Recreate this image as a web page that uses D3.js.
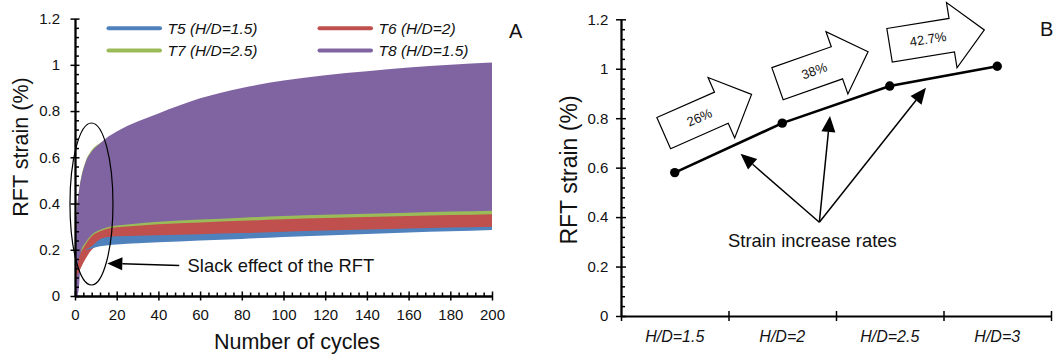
<!DOCTYPE html>
<html>
<head>
<meta charset="utf-8">
<script src="https://cdn.jsdelivr.net/npm/d3@7"></script>
<style>
  body { margin: 0; background: #fff; }
  svg { display: block; font-family: "Liberation Sans", Arial, sans-serif; }
</style>
</head>
<body>
<svg id="chart" width="1062" height="358"></svg>
<script>
// Panel A: min / max RFT strain reached in each cycle, drawn as a band
const cycles = [0, 0.5, 1, 2, 3, 5, 8, 12, 16, 20, 30, 40, 60, 80, 100, 120, 140, 160, 180, 200];
const t5Low  = [null, null, null, null, null, 0.198, 0.205, 0.215, 0.22, 0.223, 0.228, 0.232, 0.24, 0.247, 0.255, 0.262, 0.268, 0.275, 0.28, 0.286];
const t5High = [null, null, null, null, null, 0.2, 0.215, 0.245, 0.255, 0.258, 0.261, 0.263, 0.267, 0.272, 0.278, 0.283, 0.288, 0.292, 0.296, 0.3];
const t6Low  = [0.05, 0.07, 0.09, 0.105, 0.125, 0.16, 0.2, 0.225, 0.23, 0.233, 0.238, 0.242, 0.25, 0.257, 0.265, 0.272, 0.278, 0.285, 0.29, 0.295];
const t6High = [0.06, 0.09, 0.12, 0.165, 0.19, 0.222, 0.258, 0.28, 0.292, 0.297, 0.304, 0.31, 0.318, 0.325, 0.332, 0.337, 0.342, 0.346, 0.35, 0.354];
const t7Low  = [0.05, 0.07, 0.09, 0.11, 0.13, 0.165, 0.205, 0.228, 0.233, 0.236, 0.24, 0.245, 0.252, 0.26, 0.267, 0.274, 0.28, 0.287, 0.292, 0.297];
const t7High = [0.01, 0.29, 0.372, 0.462, 0.515, 0.58, 0.63, 0.662, 0.68, 0.7, 0.742, 0.775, 0.835, 0.875, 0.9, 0.92, 0.935, 0.95, 0.96, 0.97];
const t8Low  = [0, 0, 0, 0.05, 0.197, 0.23, 0.265, 0.287, 0.299, 0.305, 0.314, 0.321, 0.331, 0.339, 0.346, 0.351, 0.356, 0.36, 0.365, 0.369];
const t8High = [0.02, 0.3, 0.38, 0.46, 0.51, 0.575, 0.625, 0.66, 0.69, 0.712, 0.755, 0.79, 0.855, 0.9, 0.932, 0.955, 0.972, 0.988, 1.0, 1.01];

const seriesNames = ['T5 (H/D=1.5)', 'T6 (H/D=2)', 'T7 (H/D=2.5)', 'T8 (H/D=1.5)'];
const seriesColors = ['#4f81bd', '#c0504d', '#9bbb59', '#8064a2'];
const cycleTicks = [0, 20, 40, 60, 80, 100, 120, 140, 160, 180, 200];
const strainTicks = [0, 0.2, 0.4, 0.6, 0.8, 1, 1.2];

// Panel B: strain at the end of loading against H/D
const ratios = ['H/D=1.5', 'H/D=2', 'H/D=2.5', 'H/D=3'];
const finalStrain = [0.58, 0.78, 0.93, 1.01];
const rateLabels = ['26%', '38%', '42.7%'];

const svg = d3.select('#chart');
const FONT = '"Liberation Sans", Arial, sans-serif';

// ---------- helpers ----------
function styleAxis(g, size) {
  g.attr('font-family', FONT).attr('font-size', size);
  g.selectAll('.domain').attr('stroke', '#000').attr('stroke-width', 1.8);
  g.selectAll('.tick line').attr('stroke', '#000').attr('stroke-width', 1.5);
  g.selectAll('.tick text').attr('fill', '#111');
}

function arrowHead(g, x0, y0, x1, y1, len, half) {
  const a = Math.atan2(y1 - y0, x1 - x0);
  const bx = x1 - len * Math.cos(a), by = y1 - len * Math.sin(a);
  const px = -Math.sin(a) * half, py = Math.cos(a) * half;
  g.append('line')
    .attr('x1', x0).attr('y1', y0).attr('x2', bx).attr('y2', by)
    .attr('stroke', '#000').attr('stroke-width', 1.5);
  g.append('path')
    .attr('d', `M${x1},${y1}L${bx + px},${by + py}L${bx - px},${by - py}Z`)
    .attr('fill', '#000');
}

// ---------- panel A ----------
const xA = d3.scaleLinear().domain([0, 200]).range([75, 492]);
const yA = d3.scaleLinear().domain([0, 1.2]).range([296, 18.6]);

const lows = [t5Low, t6Low, t7Low, t8Low];
const highs = [t5High, t6High, t7High, t8High];

const band = d3.area()
  .defined(d => d.lo != null)
  .x(d => xA(d.c))
  .y0(d => yA(d.lo))
  .y1(d => yA(d.hi))
  .curve(d3.curveMonotoneX);

const panelA = svg.append('g');

// T7 behind, then T8, T6 and T5 on top
[2, 3, 1, 0].forEach(i => {
  const rows = cycles.map((c, j) => ({ c, lo: lows[i][j], hi: highs[i][j] }));
  panelA.append('path')
    .datum(rows)
    .attr('d', band)
    .attr('fill', seriesColors[i]);
});

// y axis with crossing major ticks and inner minor ticks
const yMinor = d3.range(0, 1.2001, 0.04).filter(v => Math.abs(v / 0.2 - Math.round(v / 0.2)) > 1e-6);
panelA.append('g')
  .attr('transform', `translate(${xA(0)},0)`)
  .call(d3.axisLeft(yA).tickValues(strainTicks).tickSize(4.5).tickSizeOuter(0).tickPadding(10.5).tickFormat(d => d))
  .call(g => styleAxis(g, 15));
panelA.append('g')
  .attr('transform', `translate(${xA(0)},0)`)
  .call(d3.axisRight(yA).tickValues(strainTicks).tickSize(4.5).tickSizeOuter(0).tickFormat(''))
  .call(g => styleAxis(g, 15));
panelA.append('g')
  .attr('transform', `translate(${xA(0)},0)`)
  .call(d3.axisRight(yA).tickValues(yMinor).tickSize(4).tickSizeOuter(0).tickFormat(''))
  .call(g => { styleAxis(g, 15); g.select('.domain').remove(); });

// x axis
const xMinor = d3.range(0, 201, 4).filter(v => v % 20 !== 0);
panelA.append('g')
  .attr('transform', `translate(0,${yA(0)})`)
  .call(d3.axisBottom(xA).tickValues(cycleTicks).tickSize(4.5).tickSizeOuter(0).tickPadding(8.8))
  .call(g => styleAxis(g, 15));
panelA.append('g')
  .attr('transform', `translate(0,${yA(0)})`)
  .call(d3.axisTop(xA).tickValues(cycleTicks).tickSize(4.5).tickSizeOuter(0).tickFormat(''))
  .call(g => styleAxis(g, 15));
panelA.append('g')
  .attr('transform', `translate(0,${yA(0)})`)
  .call(d3.axisTop(xA).tickValues(xMinor).tickSize(3.5).tickSizeOuter(0).tickFormat(''))
  .call(g => { styleAxis(g, 15); g.select('.domain').remove(); });

panelA.append('text')
  .attr('x', 297).attr('y', 349)
  .attr('text-anchor', 'middle')
  .attr('font-size', 21.5)
  .attr('fill', '#111')
  .text('Number of cycles');

panelA.append('text')
  .attr('transform', 'translate(27.5,147) rotate(-90)')
  .attr('text-anchor', 'middle')
  .attr('font-size', 21.5)
  .attr('fill', '#111')
  .text('RFT strain (%)');

// legend, two columns
const legend = panelA.append('g').attr('transform', 'translate(108.5,28.2)');
seriesNames.forEach((name, i) => {
  const gx = (i % 2) * 211, gy = Math.floor(i / 2) * 22.4;
  legend.append('line')
    .attr('x1', gx).attr('x2', gx + 51.5).attr('y1', gy).attr('y2', gy)
    .attr('stroke', seriesColors[i]).attr('stroke-width', 4).attr('stroke-linecap', 'round');
  legend.append('text')
    .attr('x', gx + 59).attr('y', gy + 5.5)
    .attr('font-size', 15.5).attr('font-style', 'italic').attr('fill', '#111')
    .text(name);
});

panelA.append('text')
  .attr('x', 509).attr('y', 37.5)
  .attr('font-size', 20).attr('fill', '#111')
  .text('A');

// slack region callout
panelA.append('ellipse')
  .attr('cx', xA(7.9)).attr('cy', yA(0.398))
  .attr('rx', 21.5).attr('ry', 81)
  .attr('fill', 'none').attr('stroke', '#000').attr('stroke-width', 1.2);
arrowHead(panelA, xA(50), yA(0.132), xA(15.5), yA(0.141), 15, 6.5);
panelA.append('text')
  .attr('x', xA(54)).attr('y', yA(0.104))
  .attr('font-size', 18.4).attr('fill', '#111')
  .text('Slack effect of the RFT');

// ---------- panel B ----------
const xB = d3.scaleLinear().domain([0, 4]).range([621, 1051]);
const xBand = d3.scaleBand().domain(ratios).range([621, 1051]);
const yB = d3.scaleLinear().domain([0, 1.2]).range([316, 19.3]);

const panelB = svg.append('g');

panelB.append('g')
  .attr('transform', `translate(${xB(0)},0)`)
  .call(d3.axisLeft(yB).tickValues(strainTicks).tickSize(5).tickSizeOuter(0).tickPadding(7.7).tickFormat(d => d))
  .call(g => styleAxis(g, 15));
panelB.append('g')
  .attr('transform', `translate(${xB(0)},0)`)
  .call(d3.axisRight(yB).tickValues(strainTicks).tickSize(5).tickSizeOuter(0).tickFormat(''))
  .call(g => styleAxis(g, 15));
panelB.append('g')
  .attr('transform', `translate(${xB(0)},0)`)
  .call(d3.axisRight(yB).tickValues(yMinor).tickSize(4).tickSizeOuter(0).tickFormat(''))
  .call(g => { styleAxis(g, 15); g.select('.domain').remove(); });

panelB.append('g')
  .attr('transform', `translate(0,${yB(0)})`)
  .call(d3.axisBottom(xB).tickValues([0, 1, 2, 3, 4]).tickSize(5).tickSizeOuter(0).tickFormat(''))
  .call(g => styleAxis(g, 15));
panelB.append('g')
  .attr('transform', `translate(0,${yB(0)})`)
  .call(d3.axisTop(xB).tickValues([1, 2, 3, 4]).tickSize(5).tickSizeOuter(0).tickFormat(''))
  .call(g => { styleAxis(g, 15); g.select('.domain').remove(); });
panelB.append('g')
  .attr('transform', `translate(0,${yB(0)})`)
  .call(d3.axisBottom(xBand).tickSize(0).tickPadding(14.3))
  .call(g => {
    styleAxis(g, 16);
    g.select('.domain').remove();
    g.selectAll('.tick text').attr('font-style', 'italic');
  });

panelB.append('text')
  .attr('transform', 'translate(576.7,170) rotate(-90)')
  .attr('text-anchor', 'middle')
  .attr('font-size', 23)
  .attr('fill', '#111')
  .text('RFT strain (%)');

panelB.append('text')
  .attr('x', 1040).attr('y', 36)
  .attr('font-size', 20).attr('fill', '#111')
  .text('B');

// rate arrows between neighbouring points
const arrowSpots = [
  { x: 0.806, y: 0.818, angle: -23.8 },
  { x: 1.877, y: 1.004, angle: -19.4 },
  { x: 2.939, y: 1.126, angle: -9.2 }
];
const blockShape = [[-48, -17], [15, -17], [15, -33], [48, 0], [15, 33], [15, 17], [-48, 17]];
rateLabels.forEach((label, i) => {
  const s = arrowSpots[i];
  const g = panelB.append('g')
    .attr('transform', `translate(${xB(s.x)},${yB(s.y)}) rotate(${s.angle})`);
  g.append('path')
    .attr('d', d3.line()(blockShape) + 'Z')
    .attr('fill', '#fff').attr('stroke', '#000').attr('stroke-width', 1.2);
  g.append('text')
    .attr('x', -9).attr('y', 0).attr('dy', '0.35em')
    .attr('text-anchor', 'middle')
    .attr('font-size', 13).attr('fill', '#111')
    .text(label);
});

// data line and markers
const line = d3.line()
  .x((d, i) => xB(i + 0.5))
  .y(d => yB(d));
panelB.append('path')
  .datum(finalStrain)
  .attr('d', line)
  .attr('fill', 'none').attr('stroke', '#000').attr('stroke-width', 2.6);
panelB.selectAll('circle.pt')
  .data(finalStrain)
  .enter().append('circle')
  .attr('class', 'pt')
  .attr('cx', (d, i) => xB(i + 0.5))
  .attr('cy', d => yB(d))
  .attr('r', 4.7)
  .attr('fill', '#000');

// pointers to the segments
const pointerFrom = { x: 1.845, y: 0.379 };
const pointerTips = [
  { x: 1.112, y: 0.656 },
  { x: 1.944, y: 0.809 },
  { x: 2.837, y: 0.923 }
];
pointerTips.forEach(t => {
  arrowHead(panelB, xB(pointerFrom.x), yB(pointerFrom.y), xB(t.x), yB(t.y), 16, 7);
});
panelB.append('text')
  .attr('x', xB(1.78)).attr('y', yB(0.28))
  .attr('text-anchor', 'middle')
  .attr('font-size', 18.4).attr('fill', '#111')
  .text('Strain increase rates');
</script>
</body>
</html>
